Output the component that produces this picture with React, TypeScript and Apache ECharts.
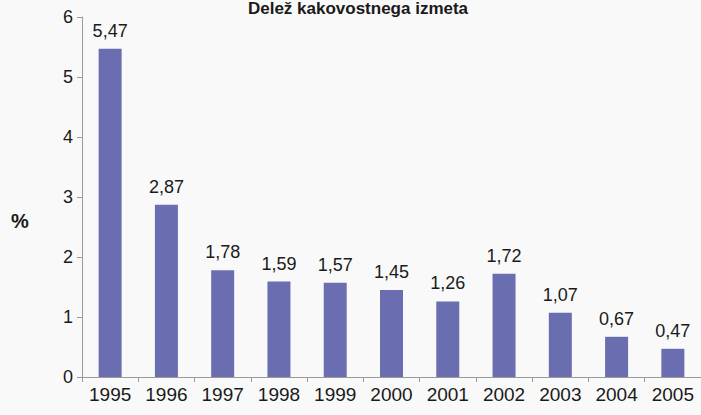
import React, { useEffect, useRef } from "react";
import * as echarts from "echarts";

const titleText = "Delež kakovostnega izmeta";
const years = ["1995", "1996", "1997", "1998", "1999", "2000", "2001", "2002", "2003", "2004", "2005"];
const values = [5.47, 2.87, 1.78, 1.59, 1.57, 1.45, 1.26, 1.72, 1.07, 0.67, 0.47];
const yAxisName = "%";

export default function App() {
  const ref = useRef<HTMLDivElement>(null);
  useEffect(() => {
    if (!ref.current) return;
    const chart = echarts.init(ref.current, null, { renderer: "svg" });
    chart.setOption({
      animation: false,
      backgroundColor: "#f9f9f9",
      textStyle: { fontFamily: "Liberation Sans, Arial, sans-serif" },
      graphic: [
        {
          type: "text",
          x: 358,
          y: 0,
          style: {
            text: titleText,
            font: "bold 17px Liberation Sans, Arial, sans-serif",
            fill: "#1a1a1a",
            textAlign: "center",
            textVerticalAlign: "top",
          },
        },
        {
          type: "text",
          left: 11,
          top: 211,
          style: { text: yAxisName, font: "bold 20px Liberation Sans, Arial, sans-serif", fill: "#1a1a1a" },
        },
      ],
      grid: { left: 82, right: 0, top: 17, bottom: 38, containLabel: false },
      xAxis: {
        type: "category",
        data: years,
        axisLine: { lineStyle: { color: "#9a9a9a", width: 1 } },
        axisTick: { show: true, length: 5, lineStyle: { color: "#9a9a9a" } },
        axisLabel: { color: "#1a1a1a", fontSize: 19, margin: 8 },
      },
      yAxis: {
        type: "value",
        min: 0,
        max: 6,
        interval: 1,
        axisLine: { show: true, lineStyle: { color: "#9a9a9a", width: 1 } },
        axisTick: { show: true, length: 5, lineStyle: { color: "#9a9a9a" } },
        axisLabel: { color: "#1a1a1a", fontSize: 18, margin: 9 },
        splitLine: { show: false },
      },
      series: [
        {
          type: "bar",
          data: values,
          barWidth: 23,
          itemStyle: { color: "#6a6eb0" },
          label: {
            show: true,
            position: "top",
            distance: 9,
            color: "#1a1a1a",
            fontSize: 18,
            formatter: (p: any) => p.value.toFixed(2).replace(".", ","),
          },
        },
      ],
    });
    return () => chart.dispose();
  }, []);
  return (
    <div
      ref={ref}
      style={{ position: "absolute", left: 0, top: 0, width: 701, height: 415 }}
    />
  );
}
